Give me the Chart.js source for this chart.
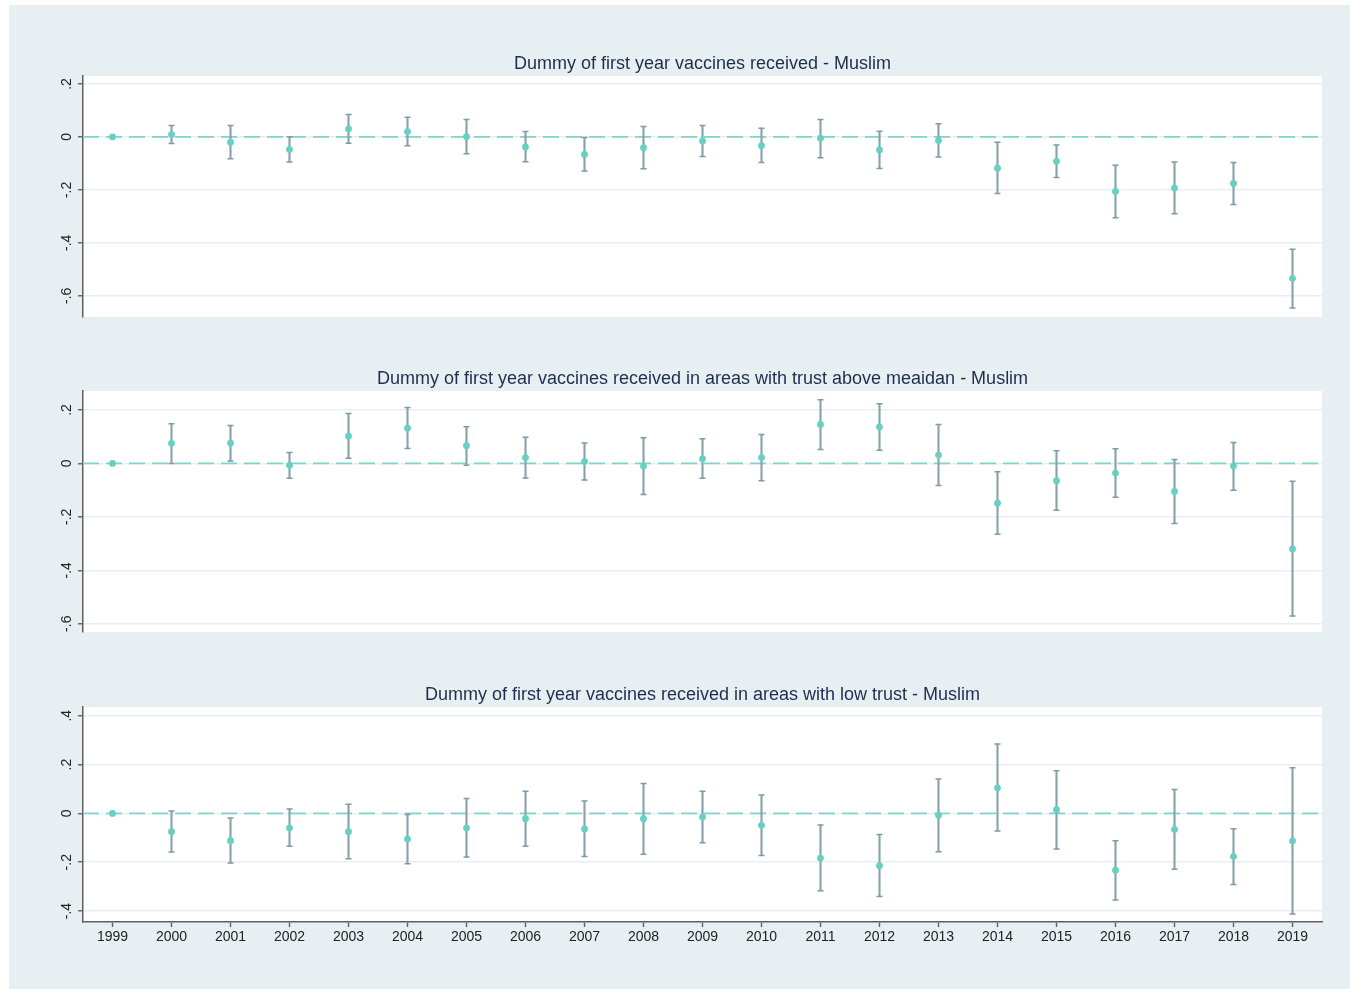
<!DOCTYPE html>
<html><head><meta charset="utf-8">
<script src="https://cdn.jsdelivr.net/npm/chart.js@4"></script>
<style>
html,body{margin:0;padding:0;background:#fff;overflow:hidden;}
#bg{position:absolute;left:9px;top:5px;width:1341px;height:984px;background:#e8eff2;}
canvas{position:absolute;left:0;}
</style></head><body>
<div id="bg"></div>
<canvas id="c1" width="1350" height="290" style="top:40px;width:1350px;height:290px"></canvas>
<canvas id="c2" width="1350" height="290" style="top:355px;width:1350px;height:290px"></canvas>
<canvas id="c3" width="1350" height="290" style="top:671px;width:1350px;height:290px"></canvas>
<script>
const years = ['1999','2000','2001','2002','2003','2004','2005','2006','2007','2008','2009','2010','2011','2012','2013','2014','2015','2016','2017','2018','2019'];

const title1 = 'Dummy of first year vaccines received - Muslim';
const title2 = 'Dummy of first year vaccines received in areas with trust above meaidan - Muslim';
const title3 = 'Dummy of first year vaccines received in areas with low trust - Muslim';

const coef1 = [0, 0.009, -0.020, -0.048, 0.030, 0.020, 0.001, -0.038, -0.066, -0.041, -0.015, -0.033, -0.005, -0.049, -0.014, -0.118, -0.092, -0.206, -0.193, -0.176, -0.534];
const lo1 = [null, -0.025, -0.082, -0.095, -0.024, -0.033, -0.064, -0.094, -0.129, -0.120, -0.074, -0.097, -0.079, -0.119, -0.076, -0.214, -0.153, -0.305, -0.290, -0.255, -0.646];
const hi1 = [null, 0.043, 0.043, 0.001, 0.085, 0.074, 0.066, 0.020, -0.002, 0.039, 0.043, 0.033, 0.066, 0.021, 0.050, -0.020, -0.031, -0.107, -0.095, -0.097, -0.424];

const coef2 = [0, 0.075, 0.076, -0.007, 0.102, 0.132, 0.066, 0.022, 0.007, -0.010, 0.017, 0.022, 0.146, 0.136, 0.031, -0.149, -0.065, -0.036, -0.105, -0.010, -0.320];
const lo2 = [null, 0.000, 0.009, -0.056, 0.019, 0.056, -0.007, -0.055, -0.062, -0.116, -0.056, -0.065, 0.052, 0.049, -0.083, -0.265, -0.175, -0.127, -0.225, -0.100, -0.571];
const hi2 = [null, 0.148, 0.142, 0.041, 0.187, 0.209, 0.137, 0.098, 0.076, 0.096, 0.092, 0.108, 0.238, 0.223, 0.146, -0.031, 0.047, 0.055, 0.015, 0.078, -0.067];

const coef3 = [0, -0.075, -0.112, -0.060, -0.075, -0.105, -0.060, -0.022, -0.064, -0.022, -0.015, -0.049, -0.183, -0.214, -0.008, 0.105, 0.015, -0.233, -0.066, -0.177, -0.113];
const lo3 = [null, -0.158, -0.203, -0.135, -0.186, -0.206, -0.179, -0.135, -0.177, -0.167, -0.120, -0.172, -0.317, -0.340, -0.157, -0.072, -0.146, -0.355, -0.229, -0.291, -0.412];
const hi3 = [null, 0.010, -0.019, 0.018, 0.037, -0.005, 0.061, 0.091, 0.051, 0.123, 0.091, 0.075, -0.048, -0.086, 0.141, 0.284, 0.175, -0.112, 0.098, -0.063, 0.187];

const yTicks1 = [-0.6, -0.4, -0.2, 0, 0.2];
const yLabels1 = ['-.6', '-.4', '-.2', '0', '.2'];
const yRange1 = [-0.68, 0.23];

const yTicks2 = [-0.6, -0.4, -0.2, 0, 0.2];
const yLabels2 = ['-.6', '-.4', '-.2', '0', '.2'];
const yRange2 = [-0.631, 0.271];

const yTicks3 = [-0.4, -0.2, 0, 0.2, 0.4];
const yLabels3 = ['-.4', '-.2', '0', '.2', '.4'];
const yRange3 = [-0.445, 0.436];

const FONT = "'Liberation Sans', Arial, Helvetica, sans-serif";
const AXIS = '#5e6163';

const bgPlugin = {
  id: 'plotbg',
  beforeDraw(chart) {
    const {ctx, chartArea: a} = chart;
    ctx.save();
    ctx.fillStyle = '#ffffff';
    ctx.fillRect(a.left, a.top, a.right - a.left, a.bottom - a.top);
    ctx.restore();
  }
};

const zeroPlugin = {
  id: 'zeroline',
  beforeDatasetsDraw(chart) {
    const {ctx, chartArea: a} = chart;
    const y = chart.scales.y.getPixelForValue(0);
    ctx.save();
    ctx.beginPath();
    ctx.setLineDash([16, 7]);
    ctx.strokeStyle = '#80d4ca';
    ctx.lineWidth = 1.6;
    ctx.moveTo(a.left, y);
    ctx.lineTo(a.right, y);
    ctx.stroke();
    ctx.restore();
  }
};

const rotLabelPlugin = {
  id: 'rotlabels',
  afterDraw(chart, args, opts) {
    const {ctx} = chart;
    const s = chart.scales.y;
    ctx.save();
    ctx.font = '14px ' + FONT;
    ctx.fillStyle = '#222222';
    ctx.textAlign = 'center';
    ctx.textBaseline = 'middle';
    s.ticks.forEach((t) => {
      const idx = opts.ticks.indexOf(t.value);
      const label = idx >= 0 ? opts.labels[idx] : String(t.value);
      const y = s.getPixelForValue(t.value);
      ctx.save();
      ctx.translate(s.right - 16, y);
      ctx.rotate(-Math.PI / 2);
      ctx.fillText(label, 0, 0);
      ctx.restore();
    });
    ctx.restore();
  }
};

function makeChart(id, title, coef, lo, hi, yTicks, yLabels, yRange, showX) {
  const stems = lo.map((l, i) => (l === null ? null : [l, hi[i]]));
  return new Chart(document.getElementById(id), {
    type: 'bar',
    data: {
      labels: years,
      datasets: [
        {
          type: 'line', data: coef, showLine: false,
          pointRadius: 3.4, pointHoverRadius: 3.4,
          pointBackgroundColor: '#66d0c5', pointBorderWidth: 0, borderColor: '#66d0c5'
        },
        {
          type: 'line', data: hi, showLine: false, pointStyle: 'line',
          pointRadius: 3, pointHoverRadius: 3, pointBorderWidth: 1.5,
          pointBorderColor: '#7f9ba3', borderColor: '#7f9ba3'
        },
        {
          type: 'line', data: lo, showLine: false, pointStyle: 'line',
          pointRadius: 3, pointHoverRadius: 3, pointBorderWidth: 1.5,
          pointBorderColor: '#7f9ba3', borderColor: '#7f9ba3'
        },
        {
          type: 'bar', data: stems, barThickness: 1.5,
          backgroundColor: '#8aa3aa', borderWidth: 0, grouped: false
        }
      ]
    },
    options: {
      responsive: false,
      animation: false,
      events: [],
      layout: { padding: { left: 38, right: 28, top: 10, bottom: showX ? 9 : 13 } },
      plugins: {
        legend: { display: false },
        tooltip: { enabled: false },
        title: {
          display: true, text: title, fullSize: false,
          color: '#1f2d4e',
          font: { family: FONT, size: 18, weight: 'normal' },
          padding: { top: 3, bottom: 1.4 }
        },
        rotlabels: { ticks: yTicks, labels: yLabels }
      },
      scales: {
        x: {
          type: 'category',
          offset: true,
          display: showX,
          afterFit(s) { if (showX) { s.height = 30; } },
          grid: { offset: false, drawOnChartArea: false, drawTicks: true, tickLength: 5, tickColor: AXIS, tickWidth: 1.4 },
          border: { display: true, color: AXIS, width: 1.5 },
          ticks: { font: { family: FONT, size: 14 }, color: '#222222', padding: 2, maxRotation: 0, autoSkip: false }
        },
        y: {
          type: 'linear',
          min: yRange[0], max: yRange[1],
          afterBuildTicks(s) { s.ticks = yTicks.map(v => ({ value: v })); },
          afterFit(s) { s.width = 45; },
          grid: { color: '#e8eff1', lineWidth: 1.5, drawTicks: true, tickLength: 5, tickColor: AXIS, tickWidth: 1.4 },
          border: { display: true, color: AXIS, width: 1.5 },
          ticks: { display: false }
        }
      }
    },
    plugins: [bgPlugin, zeroPlugin, rotLabelPlugin]
  });
}

makeChart('c1', title1, coef1, lo1, hi1, yTicks1, yLabels1, yRange1, false);
makeChart('c2', title2, coef2, lo2, hi2, yTicks2, yLabels2, yRange2, false);
makeChart('c3', title3, coef3, lo3, hi3, yTicks3, yLabels3, yRange3, true);
</script>
</body></html>
